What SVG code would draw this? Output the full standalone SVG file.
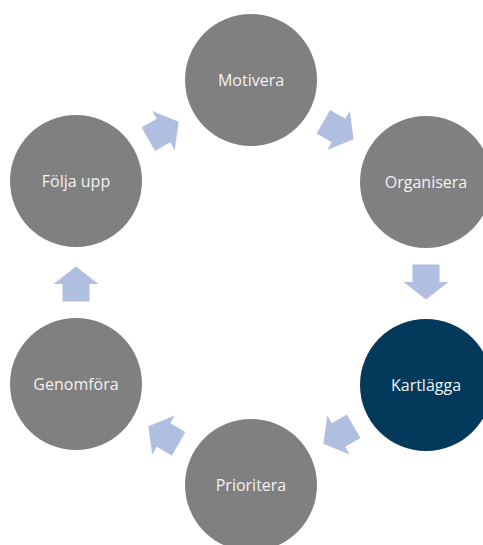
<svg xmlns="http://www.w3.org/2000/svg" width="483" height="545" viewBox="0 0 483 545">
<style>
.node{fill:#808080}
.hl{fill:#033A5C}
.lbl{font-family:"Open Sans","Noto Sans",sans-serif;font-size:16px;fill:#F2F2F2;text-anchor:middle;dominant-baseline:central}
.arr{fill:#B0BEE0}
</style>
<defs>
<path id="ba" d="M-17.5,-13.5 L0,-13.5 L0,-22.5 L17.5,0 L0,22.5 L0,13.5 L-17.5,13.5 Z"/>
</defs>
<rect width="483" height="545" fill="#FFFFFF"/>
<g id="connectors" class="arr">
<use href="#ba" transform="translate(338.5,130.5) rotate(30)"/>
<use href="#ba" transform="translate(426,282) rotate(90)"/>
<use href="#ba" transform="translate(338.5,435) rotate(150)"/>
<use href="#ba" transform="translate(163.5,435) rotate(210)"/>
<use href="#ba" transform="translate(76,284) rotate(270)"/>
<use href="#ba" transform="translate(163.5,130.5) rotate(330)"/>
</g>
<g id="motivera"><circle class="node" cx="251" cy="80" r="66"/><text class="lbl" x="251" y="80">Motivera</text></g>
<g id="organisera"><circle class="node" cx="426" cy="182" r="66"/><text class="lbl" x="426" y="182">Organisera</text></g>
<g id="kartlagga"><circle class="hl" cx="426" cy="385" r="66"/><text class="lbl" x="426" y="385">Kartlägga</text></g>
<g id="prioritera"><circle class="node" cx="251" cy="485" r="66"/><text class="lbl" x="251" y="485">Prioritera</text></g>
<g id="genomfora"><circle class="node" cx="76" cy="384" r="66"/><text class="lbl" x="76" y="384">Genomföra</text></g>
<g id="folja-upp"><circle class="node" cx="76" cy="181" r="66"/><text class="lbl" x="76" y="181">Följa upp</text></g>
</svg>
